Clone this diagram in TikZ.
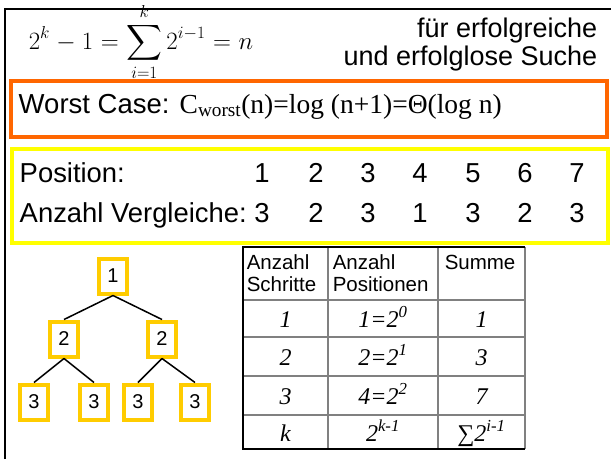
\documentclass[tikz,border=0pt]{standalone}
\usepackage{amsmath}
\usepackage{fontspec}
\setmainfont{Liberation Sans}
\newfontfamily\timesfont{Liberation Serif}
\usepackage{xcolor}
\definecolor{caseorange}{HTML}{FF6600}
\definecolor{posyellow}{HTML}{FFFF00}
\definecolor{treegold}{HTML}{FFCC00}
\definecolor{tabgrey}{HTML}{808080}

\begin{document}
\begin{tikzpicture}[
    x=1pt, y=-1pt,
    line width=1.5pt,
    every node/.style={inner sep=0pt, font=\fontsize{27}{27}\selectfont},
    rowtxt/.style={font=\fontsize{27.4}{27.4}\selectfont},
    treebox/.style={draw=treegold, line width=4pt, minimum width=28pt,
      minimum height=35pt, font=\fontsize{20}{20}\selectfont},
    headtxt/.style={align=left, anchor=north west, font=\fontsize{20.5}{22}\selectfont},
    celltxt/.style={anchor=base, font=\timesfont\itshape\fontsize{24}{24}\selectfont}
  ]
    \useasboundingbox (0,0) rectangle (611,459);
    % frame
    \draw[line width=2.5pt] (5,459) -- (5,9) -- (611,9);

    % formula and note
    \node[anchor=base west, font=\fontsize{24}{28}\selectfont] (sumformula) at (28,49)
      {\thickmuskip=5.5mu \medmuskip=4.5mu
       $\displaystyle 2^k-1=\sum_{i=1}^{k}2^{i-1}=n$};
    \node[anchor=north east, align=right, font=\fontsize{27}{28}\selectfont]
      (searchnote) at (598,17.5) {für erfolgreiche\\und erfolglose Suche};

    % worst case
    \node[draw=caseorange, line width=4pt, minimum width=596pt, minimum height=56pt,
      anchor=north west] (casebox) at (9,79) {};
    \node[anchor=base west, font=\fontsize{27.5}{27.5}\selectfont] (casetxt) at (18,113)
      {Worst Case: {\timesfont C\textsubscript{worst}(n)=log (n+1)=Θ(log n)}};

    % positions
    \node[draw=posyellow, line width=4pt, minimum width=596pt, minimum height=94pt,
      anchor=north west] (posbox) at (10,147) {};
    \node[rowtxt, anchor=base west] (poslabel) at (19,182) {Position:};
    \node[rowtxt, anchor=base west] (cmplabel) at (19,222) {Anzahl Vergleiche:};
    \foreach \x/\p/\c [count=\i] in {262/1/3, 316/2/2, 368/3/3, 420/4/1,
        473/5/3, 525/6/2, 577/7/3} {
      \node[rowtxt, anchor=base] (pos\i) at (\x,182) {\p};
      \node[rowtxt, anchor=base] (cmp\i) at (\x,222) {\c};
    }

    % tree
    \node[treebox] (root) at (113,276) {1};
    \node[treebox] (lft) at (64,339) {2};
    \node[treebox] (rgt) at (162,339) {2};
    \node[treebox] (lftl) at (34,402) {3};
    \node[treebox] (lftr) at (94,402) {3};
    \node[treebox] (rgtl) at (138,402) {3};
    \node[treebox] (rgtr) at (195,402) {3};
    \draw (root.south) -- (lft.north);
    \draw (root.south) -- (rgt.north);
    \draw (lft.south) -- (lftl.north);
    \draw (lft.south) -- (lftr.north);
    \draw (rgt.south) -- (rgtl.north);
    \draw (rgt.south) -- (rgtr.north);

    % table
    \draw[tabgrey] (328,247) -- (328,449) (438,247) -- (438,449) (525,247) -- (525,449);
    \foreach \y in {300,337,376,415}
      \draw[tabgrey] (243,\y) -- (525,\y);
    \draw (525,247) -- (243,247) -- (243,449) -- (525,449);
    \node[headtxt] (hdsteps) at (246,254) {Anzahl\\Schritte};
    \node[headtxt] (hdpos) at (332,254) {Anzahl\\Positionen};
    \node[headtxt] (hdsum) at (444,254) {Summe};
    \foreach \s/\p/\t/\y [count=\i] in {1/1=2\textsuperscript{0}/1/327,
        2/2=2\textsuperscript{1}/3/365, 3/4=2\textsuperscript{2}/7/404,
        k/2\textsuperscript{k-1}/∑2\textsuperscript{i-1}/441} {
      \node[celltxt] (steps\i) at (285.5,\y) {\s};
      \node[celltxt] (count\i) at (383,\y) {\p};
      \node[celltxt] (total\i) at (481.5,\y) {\t};
    }
  \end{tikzpicture}
\end{document}
